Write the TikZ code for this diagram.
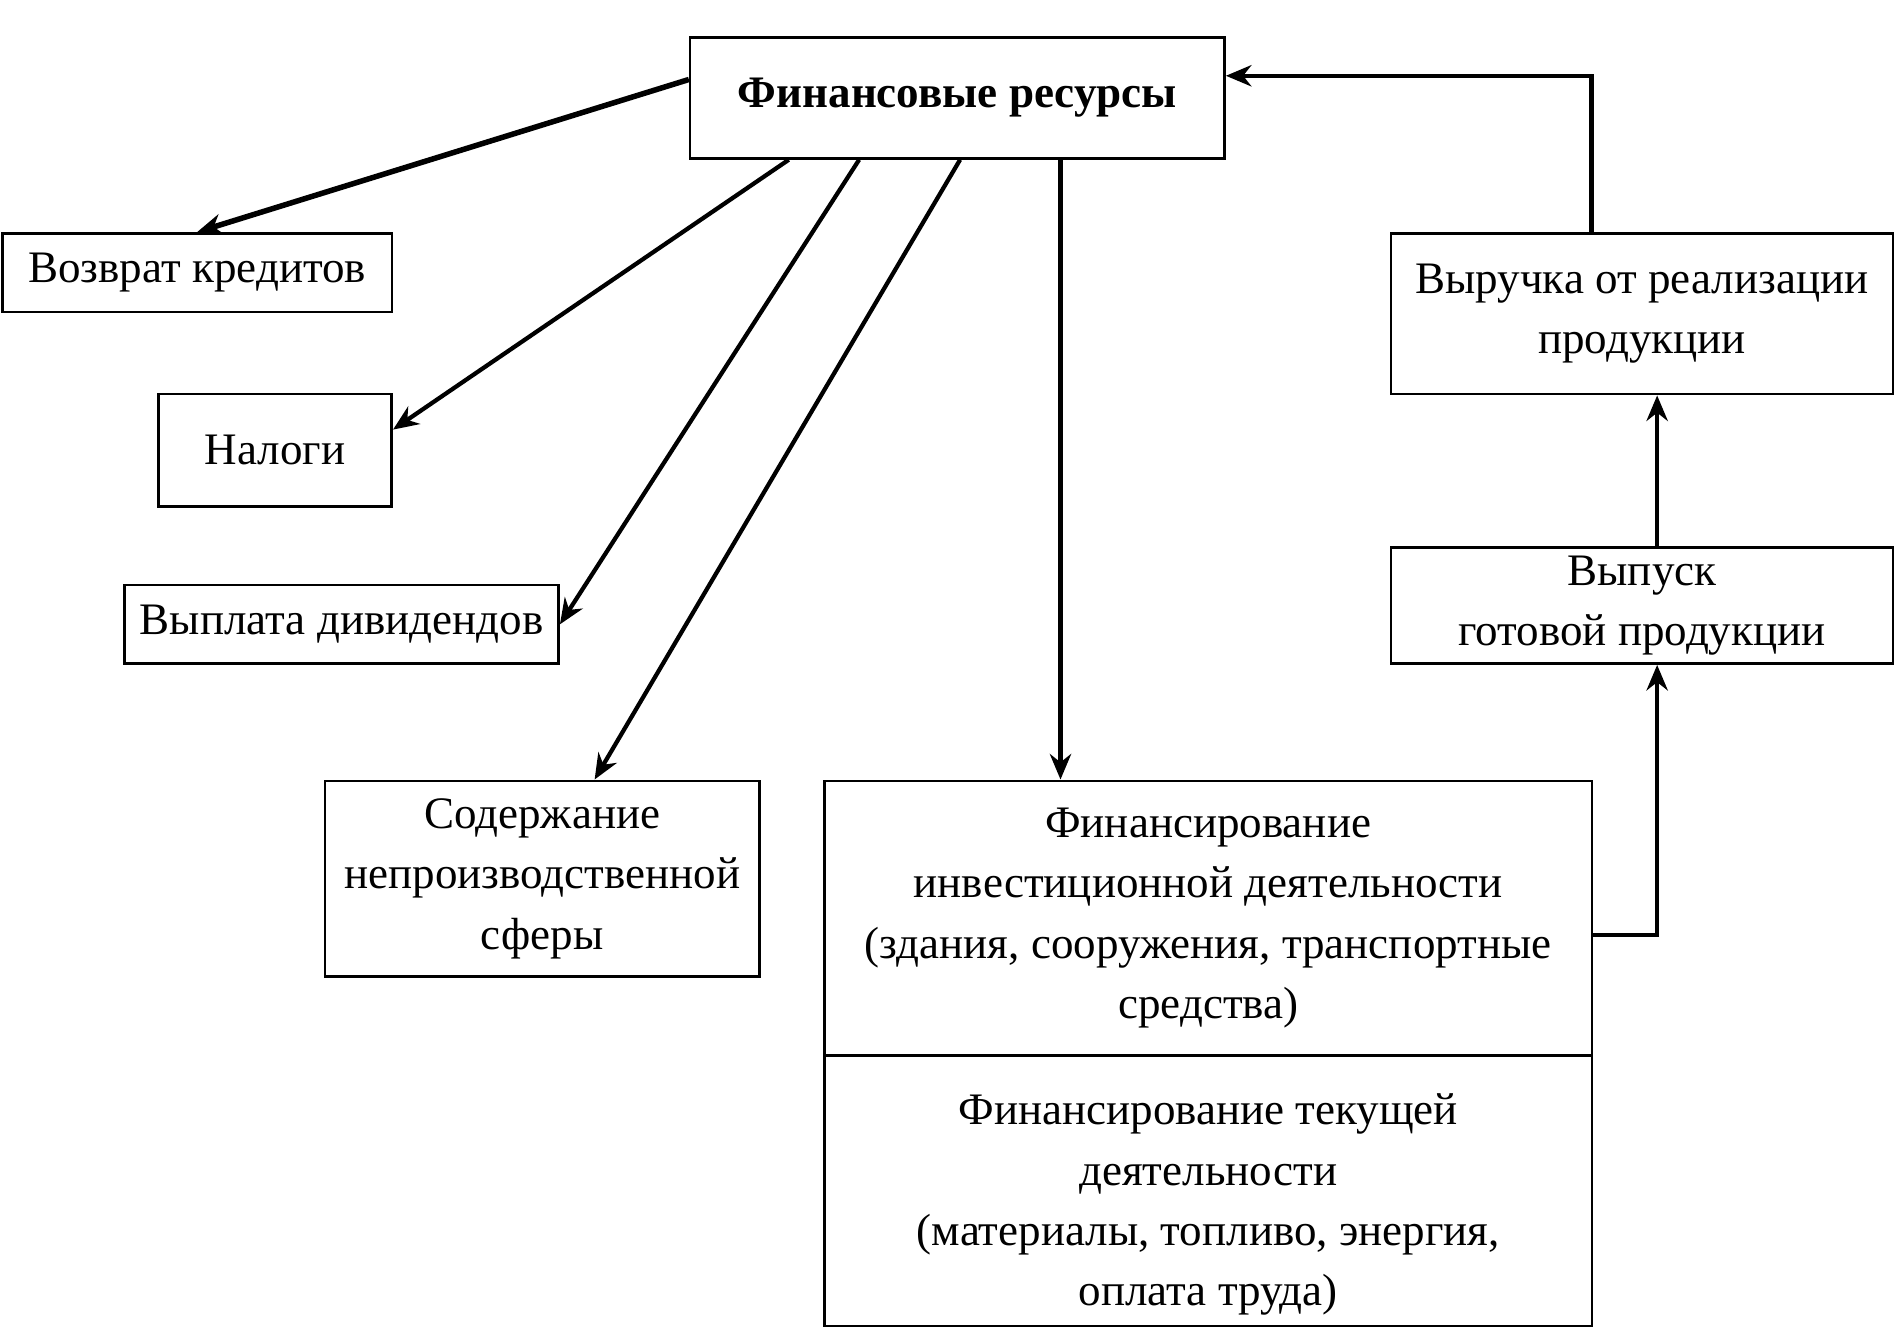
\documentclass[tikz,border=0pt]{standalone}
\usepackage{fontspec}
\setmainfont{Liberation Serif}
\usetikzlibrary{arrows.meta,calc}
\begin{document}
\begin{tikzpicture}[x=0.01cm,y=-0.01cm,
		rbox/.style={draw,line width=0.6pt,anchor=north west,align=center,inner sep=0pt,font=\fontsize{10.6}{14.2}\selectfont},
		link/.style={line width=1pt,-{Stealth[length=6pt,width=5pt]}}]
		\useasboundingbox[fill=white] (0,0) rectangle (1568,1099);
		% Boxes
		\node[rbox,minimum width=4.42cm,minimum height=1cm,font=\bfseries\fontsize{10.6}{14.2}\selectfont] (fr) at (570,30) {Финансовые ресурсы};
		\node[rbox,minimum width=3.22cm,minimum height=0.65cm] (vozvrat) at (1,192) {Возврат кредитов};
		\node[rbox,minimum width=1.93cm,minimum height=0.93cm] (nalogi) at (130,325) {Налоги};
		\node[rbox,minimum width=3.59cm,minimum height=0.65cm] (vyplata) at (102,483) {Выплата дивидендов};
		\node[rbox,minimum width=3.59cm,minimum height=1.62cm] (soderzh) at (268,645) {Содержание\\непроизводственной\\сферы};
		\node[rbox,minimum width=6.35cm,minimum height=2.27cm] (inv) at (681,645) {Финансирование\\инвестиционной деятельности\\(здания, сооружения, транспортные\\средства)};
		\node[rbox,minimum width=6.35cm,minimum height=2.24cm] (cur) at (681,872) {\rule{0pt}{14pt}Финансирование текущей\\деятельности\\(материалы, топливо, энергия,\\оплата труда)};
		\node[rbox,minimum width=4.15cm,minimum height=1.33cm] (vyruchka) at (1150,192) {Выручка от реализации\\продукции};
		\node[rbox,minimum width=4.15cm,minimum height=0.96cm] (vypusk) at (1150,452) {Выпуск\\готовой продукции};
		% Arrows out of the resources
		\coordinate (s1) at ($(fr.north west)!0.35!(fr.south west)$);
		\draw[link,line width=1.3pt] (s1) -- (vozvrat.north);
		\draw[link] ($(fr.south west)!0.186!(fr.south east)$) -- ($(nalogi.north east)!0.32!(nalogi.south east)$);
		\draw[link] ($(fr.south west)!0.317!(fr.south east)$) -- (vyplata.east);
		\draw[link] ($(fr.south west)!0.505!(fr.south east)$) -- ($(soderzh.north west)!0.62!(soderzh.north east)$);
		\coordinate (s5) at ($(fr.south west)!0.692!(fr.south east)$);
		\draw[link] (s5) -- (s5 |- inv.north);
		% Loop back
		\draw[link] ($(inv.north east)!0.56!(inv.south east)$) -| ($(vypusk.south west)!0.53!(vypusk.south east)$);
		\draw[link] ($(vypusk.north west)!0.53!(vypusk.north east)$) -- ($(vyruchka.south west)!0.53!(vyruchka.south east)$);
		\draw[link] ($(vyruchka.north west)!0.4!(vyruchka.north east)$) |- ($(fr.north east)!0.32!(fr.south east)$);
	\end{tikzpicture}
\end{document}
